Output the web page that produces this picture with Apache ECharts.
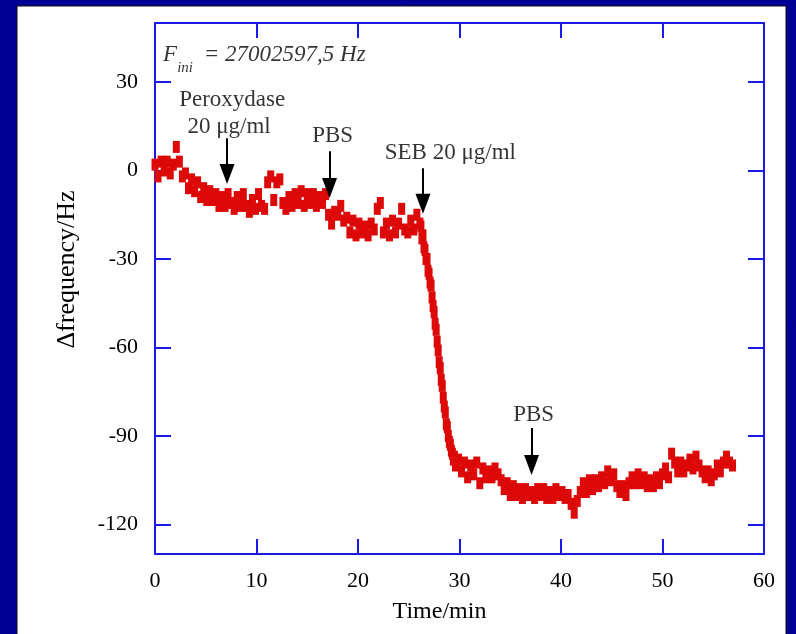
<!DOCTYPE html>
<html>
<head>
<meta charset="utf-8">
<script src="https://cdn.jsdelivr.net/npm/echarts@6/dist/echarts.min.js"></script>
<style>html,body{margin:0;padding:0;background:#000096;}#chart{width:796px;height:634px;}</style>
</head>
<body>
<div id="chart"></div>
<script>
// Sampling times (min) and frequency shifts (Hz)
const timeA = [0,0.3,0.6,0.9,1.2,1.5,1.8,2.1,2.4,2.7,3,3.3,3.6,3.9,4.2,4.5,4.8,5.1,5.4,5.7,6,6.3,6.6,6.9,7.2,7.5,7.8,8.1,8.4,8.7,9,9.3,9.6,9.9,10.2,10.5,10.8,11.1,11.4,11.7,12,12.3,12.6,12.9,13.2,13.5,13.8,14.1,14.4,14.7,15,15.3,15.6,15.9,16.2,16.5,16.8,17.1,17.4,17.7,18,18.3,18.6,18.9,19.2,19.5,19.8,20.1,20.4,20.7,21,21.3,21.6,21.9,22.2,22.5,22.8,23.1,23.4,23.7,24,24.3,24.6,24.9,25.2,25.5,25.8,26.1];
const freqA = [2,-2,3,0,3,-1,2,8,3,-2,
  -1,-6,-3,-7,-4,-9,-6,-10,-7,-10,
  -8,-12,-9,-12,-8,-11,-13,-9,-12,-8,
  -12,-14,-10,-13,-8,-12,-13,-4,-2,-10,
  -4,-3,-11,-13,-9,-12,-8,-11,-7,-12,
  -8,-11,-8,-12,-9,-11,-8,-15,-18,-14,
  -15,-12,-17,-16,-21,-17,-22,-18,-21,-19,
  -22,-18,-20,-13,-11,-21,-18,-22,-17,-21,
  -18,-13,-20,-21,-17,-20,-15,-18];
const timeB = [26.2,26.3,26.4,26.5,26.6,26.7,26.8,26.9,27.0,27.1,27.2,27.3,27.4,27.5,27.6,27.7,27.8,27.9,28.0,28.1,28.2,28.3,28.4,28.5,28.6,28.7,28.8,28.9,29.0,29.1,29.2,29.3,29.4,29.5,29.6];
const freqB = [-19,-23,-22,-26,-27,-30,-30,-34,-35,-38,
  -39,-43,-46,-48,-52,-54,-58,-61,-65,-67,
  -71,-73,-77,-80,-82,-86,-87,-90,-92,-93,
  -95,-96,-98,-97,-100];
const timeC = [29.9,30.2,30.5,30.8,31.1,31.4,31.7,32,32.3,32.6,32.9,33.2,33.5,33.8,34.1,34.4,34.7,35,35.3,35.6,35.9,36.2,36.5,36.8,37.1,37.4,37.7,38,38.3,38.6,38.9,39.2,39.5,39.8,40.1,40.4,40.7,41,41.3,41.6,41.9,42.2,42.5,42.8,43.1,43.4,43.7,44,44.3,44.6,44.9,45.2,45.5,45.8,46.1,46.4,46.7,47,47.3,47.6,47.9,48.2,48.5,48.8,49.1,49.4,49.7,50,50.3,50.6,50.9,51.2,51.5,51.8,52.1,52.4,52.7,53,53.3,53.6,53.9,54.2,54.5,54.8,55.1,55.4,55.7,56,56.3,56.6,56.9];
const freqC = [-98,-102,-99,-104,-100,-103,-99,-106,-101,-104,
  -102,-104,-101,-103,-105,-108,-106,-110,-107,-110,
  -108,-111,-108,-110,-109,-111,-108,-110,-108,-111,
  -109,-111,-108,-110,-109,-111,-110,-113,-116,-112,
  -109,-106,-109,-105,-108,-105,-107,-104,-106,-102,
  -105,-103,-107,-109,-107,-110,-106,-104,-106,-103,
  -106,-104,-107,-105,-107,-104,-106,-103,-101,-104,
  -96,-99,-102,-99,-102,-100,-98,-101,-97,-100,
  -102,-104,-102,-105,-103,-100,-102,-99,-97,-99,
  -100];

const xTicks = [0,10,20,30,40,50,60];
const yTicks = [-120,-90,-60,-30,0,30];

// Annotation texts (data coordinates) and arrows [time, from, to]
const annoTexts = [
  {name:'Peroxydase', value:[7.6,24.0]},
  {name:'20 μg/ml', value:[7.3,14.6]},
  {name:'PBS', value:[17.5,11.6]},
  {name:'SEB 20 μg/ml', value:[29.1,5.9]},
  {name:'PBS', value:[37.3,-83]}
];
const arrows = [[7.1,10.9,-1.2],[17.2,6.5,-5.9],[26.4,0.8,-11.3],[37.1,-87.3,-99.8]];
const fIniLabel = {value:[0.8,39.0]};

function zip(t,v){const n=Math.min(t.length,v.length);const o=[];for(let i=0;i<n;i++)o.push([t[i],v[i]]);return o;}
const series1 = zip(timeA,freqA).concat(zip(timeB,freqB)).concat(zip(timeC,freqC));

const blue = '#1a1ae6';
const serif = 'Liberation Serif, Times New Roman, serif';
const chart = echarts.init(document.getElementById('chart'), null, {renderer:'canvas'});

const lineCommon = {show:true, onZero:false, lineStyle:{color:blue, width:2}};

chart.setOption({
  animation:false,
  backgroundColor:'#000096',
  graphic:[{type:'rect', z:-10, shape:{x:17,y:6,width:769,height:640}, style:{fill:'#ffffff', stroke:'#111', lineWidth:1}}],
  grid:{left:155, right:32, top:23, bottom:80},
  xAxis:[
    {type:'value', position:'bottom', min:0, max:60, interval:10,
      axisLine:lineCommon, splitLine:{show:false},
      axisTick:{show:true, inside:true, length:15, lineStyle:{color:blue, width:2}},
      axisLabel:{show:true, color:'#000', fontFamily:serif, fontSize:22, margin:16, customValues:xTicks},
      name:'Time/min', nameLocation:'middle', nameGap:46,
      nameTextStyle:{color:'#000', fontFamily:serif, fontSize:24, padding:[0,40,0,0]}},
    {type:'value', position:'top', min:0, max:60, interval:10,
      axisLine:lineCommon, splitLine:{show:false},
      axisTick:{show:true, inside:true, length:15, lineStyle:{color:blue, width:2}},
      axisLabel:{show:false}}
  ],
  yAxis:[
    {type:'value', position:'left', min:-130, max:50,
      axisLine:lineCommon, splitLine:{show:false},
      axisTick:{show:true, inside:true, length:16, lineStyle:{color:blue, width:2}, customValues:yTicks},
      axisLabel:{show:true, color:'#000', fontFamily:serif, fontSize:22, margin:17, customValues:yTicks},
      name:'\u0394frequency/Hz', nameLocation:'middle', nameGap:75, nameRotate:90,
      nameTextStyle:{color:'#000', fontFamily:serif, fontSize:26, padding:[0,0,0,38]}},
    {type:'value', position:'right', min:-130, max:50,
      axisLine:lineCommon, splitLine:{show:false},
      axisTick:{show:true, inside:true, length:16, lineStyle:{color:blue, width:2}, customValues:yTicks},
      axisLabel:{show:false}}
  ],
  series:[
    {type:'scatter', name:'data', data:series1, symbol:'rect', symbolSize:[7,12],
      itemStyle:{color:'#dd0808', opacity:1}, z:2, silent:true, clip:false},
    {type:'scatter', name:'annotations', data:annoTexts, symbolSize:0, z:5, silent:true,
      label:{show:true, position:'inside', formatter:'{b}', color:'#000', fontFamily:serif, fontSize:23},
      markLine:{silent:true, symbol:['none','triangle'], symbolSize:[15,20],
        lineStyle:{color:'#000', width:2, type:'solid'}, label:{show:false},
        itemStyle:{color:'#000'},
        data:arrows.map(a=>[{coord:[a[0],a[1]], symbol:'none'},{coord:[a[0],a[2]], symbol:'triangle'}])}},
    {type:'scatter', name:'fini', data:[fIniLabel], symbolSize:0, z:5, silent:true,
      label:{show:true, position:'inside', align:'left',
        formatter:'{f|F}{s|ini}{f| = 27002597,5 Hz}',
        rich:{f:{fontFamily:serif, fontStyle:'italic', fontSize:23, color:'#000'},
              s:{fontFamily:serif, fontStyle:'italic', fontSize:15, color:'#000', padding:[26,5,0,0]}}}}
  ]
});
</script>
</body>
</html>
